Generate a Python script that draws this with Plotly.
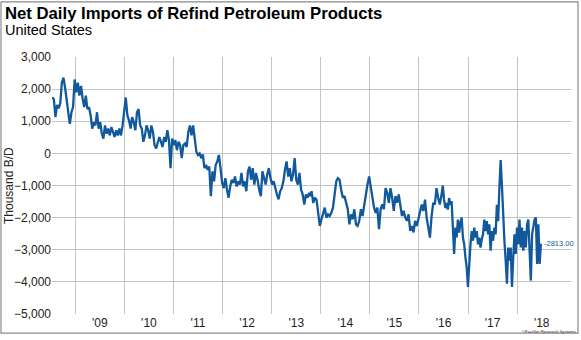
import pandas as pd
import plotly.graph_objects as go

# ---- data (thousand barrels/day) ----
seg1_start, seg1_end = '2008-07-13', '2011-03-15'
seg1_values = [1745, 1680, 1130, 1510, 1400, 1560, 2200, 2360, 2050, 1590, 1280, 920, 1280, 1440,
               2300, 1900, 2200, 1800, 2100, 1700, 1440, 1800, 1380, 1440, 1180, 770, 970, 870,
               1280, 770, 970, 610, 460, 870, 610, 770, 560, 820, 670, 510, 720, 560, 770, 560,
               870, 1280, 1740, 1180, 1030, 770, 1130, 970, 720, 1280, 1380, 870, 770, 360, 560,
               870, 720, 460, 870, 670, 260, 150, 310, 510, 360, 200, 510, 360, 720, 410, -460,
               460, 260, 410, 100, 360, 260, -150, 260]

seg2_start, seg2_end = '2011-03-28', '2013-10-06'
seg2_values = [310, 200, 667, 870, 560, 870, 460, 50, -50, 0, -150, -30, -460, -360, -510, -410,
               -1330, -560, -870, -360, -250, -50, -460, -920, -1080, -770, -1130, -1380, -1030,
               -820, -920, -720, -1030, -870, -970, -610, -1030, -870, -1180, -560, -410, -820,
               -460, -970, -610, -820, -1130, -1330, -560, -770, -970, -660, -460, -770, -970,
               -870, -1130, -1280, -1430, -1180, -1080, -870, -510, -250, -720, -460, -870, -660,
               -150, -820, -970, -610, -1130, -1280, -1590, -1280, -1380, -1230]

seg3_start, seg3_end = '2013-10-12', '2016-06-04'
seg3_values = [-1330, -1180, -1540, -1380, -1440, -1790, -2260, -2050, -1850, -1690, -2000, -1900,
               -1950, -1850, -1690, -1180, -870, -770, -820, -1130, -1380, -1330, -1590, -1740,
               -2210, -1900, -2050, -1740, -2210, -2260, -2100, -1740, -1950, -1590, -1180, -970,
               -720, -1080, -1440, -1690, -1850, -1690, -2360, -1740, -1590, -1740, -1080, -1230,
               -1540, -1080, -1380, -1790, -1330, -1540, -1280, -1690, -1950, -1790, -2000, -2100,
               -1900, -2410, -2260, -2460, -2100, -2260, -2050, -1790, -1590, -1790, -1440, -2000,
               -2310, -2620, -1950, -1540, -1590, -1080, -1380, -1590]

seg4_start, seg4_end = '2016-06-17', '2018-06-26'
seg4_values = [-1290, -1000, -1440, -1700, -1540, -1750, -1390, -1600, -1490, -2210, -3130, -2310,
               -2620, -2060, -2470, -2160, -2000, -2620, -2830, -3240, -3550, -4160, -3240, -2830,
               -2420, -2720, -2310, -2620, -2420, -2830, -2620, -2930, -2670, -2520, -2060, -2420,
               -2110, -2520, -2210, -3030, -2420, -2720, -2310, -2520, -1600, -2110, -1080, -210,
               -980, -2210, -2720, -3340, -4060, -2930, -3340, -2930, -4160, -3240, -2520, -3130,
               -2310, -2830, -2060, -2930, -2310, -3030, -2420, -2930, -2210, -2060, -3240, -3960,
               -2520, -2210, -2060, -2000, -3440, -2210, -3440, -2813]

last_value_label = '-2813.00'
year_labels = ["'09", "'10", "'11", "'12", "'13", "'14", "'15", "'16", "'17", "'18"]
label_years = list(range(2009, 2019))
y_ticks = [3000, 2000, 1000, 0, -1000, -2000, -3000, -4000, -5000]

title = 'Net Daily Imports of Refind Petroleum Products'
subtitle = 'United States'
y_title = 'Thousand B/D'
source = '©FactSet Research Systems'

# ---- build series ----
segments = [(seg1_start, seg1_end, seg1_values), (seg2_start, seg2_end, seg2_values),
            (seg3_start, seg3_end, seg3_values), (seg4_start, seg4_end, seg4_values)]
dates, values = [], []
for s, e, v in segments:
    dates.extend(pd.date_range(s, e, periods=len(v)))
    values.extend(v)

BLUE = '#11599c'
GRID = '#c4c4c4'
FONT = 'Arial, Liberation Sans, sans-serif'

W, H = 581, 340
L, R, T, B = 52, 10, 57, 22
PW, PH = W - L - R, H - T - B


def px(xp):
    return (xp - L) / PW


def py(yp):
    return (H - B - yp) / PH


fig = go.Figure()
fig.add_trace(go.Scatter(x=dates, y=values, mode='lines',
                         line=dict(color=BLUE, width=2.3), hoverinfo='skip'))

fig.update_layout(
    width=W, height=H, margin=dict(l=L, r=R, t=T, b=B),
    paper_bgcolor='white', plot_bgcolor='white', showlegend=False,
    font=dict(family=FONT, size=12, color='#222'),
    xaxis=dict(
        type='date', range=['2008-07-11', '2019-02-05'],
        tickmode='array',
        tickvals=[f'{y}-07-02' for y in label_years], ticktext=year_labels,
        showgrid=False, zeroline=False, showline=False, ticks='',
        tickfont=dict(size=12, color='#222'),
        minor=dict(tickmode='array', tickvals=[f'{y}-01-01' for y in label_years],
                   showgrid=True, gridcolor=GRID, gridwidth=1, ticks=''),
    ),
    yaxis=dict(
        range=[-5000, 3000], tickmode='array', tickvals=y_ticks,
        tickformat=',', showgrid=True, gridcolor=GRID, gridwidth=1,
        zeroline=False, showline=False, ticks='',
        tickfont=dict(size=12, color='#222'),
    ),
)

ann = [
    dict(text='<b>' + title + '</b>', x=px(3), y=py(12.5), xanchor='left', yanchor='middle',
         font=dict(size=16.7, color='#000', family=FONT)),
    dict(text=subtitle, x=px(3), y=py(29.7), xanchor='left', yanchor='middle',
         font=dict(size=14.5, color='#000', family=FONT)),
    dict(text=y_title, x=px(8.5), y=0.5, xanchor='center', yanchor='middle', textangle=-90,
         font=dict(size=12, color='#222', family=FONT)),
    dict(text=source, x=px(578), y=py(335.3), xanchor='right', yanchor='middle',
         font=dict(size=4.2, color='#333', family=FONT)),
]
for a in ann:
    a.update(xref='paper', yref='paper', showarrow=False)
fig.update_layout(annotations=ann)
fig.add_annotation(x=dates[-1], y=values[-1], xref='x', yref='y', text=last_value_label,
                   showarrow=False, xanchor='left', yanchor='middle', xshift=1,
                   font=dict(size=7.5, color=BLUE, family=FONT))

fig.add_shape(type='rect', xref='paper', yref='paper', x0=px(1), x1=px(578), y0=py(337.5), y1=py(1),
              line=dict(color='#8a8a8a', width=1.2), fillcolor='rgba(0,0,0,0)', layer='above')

fig.write_html('out.html')
